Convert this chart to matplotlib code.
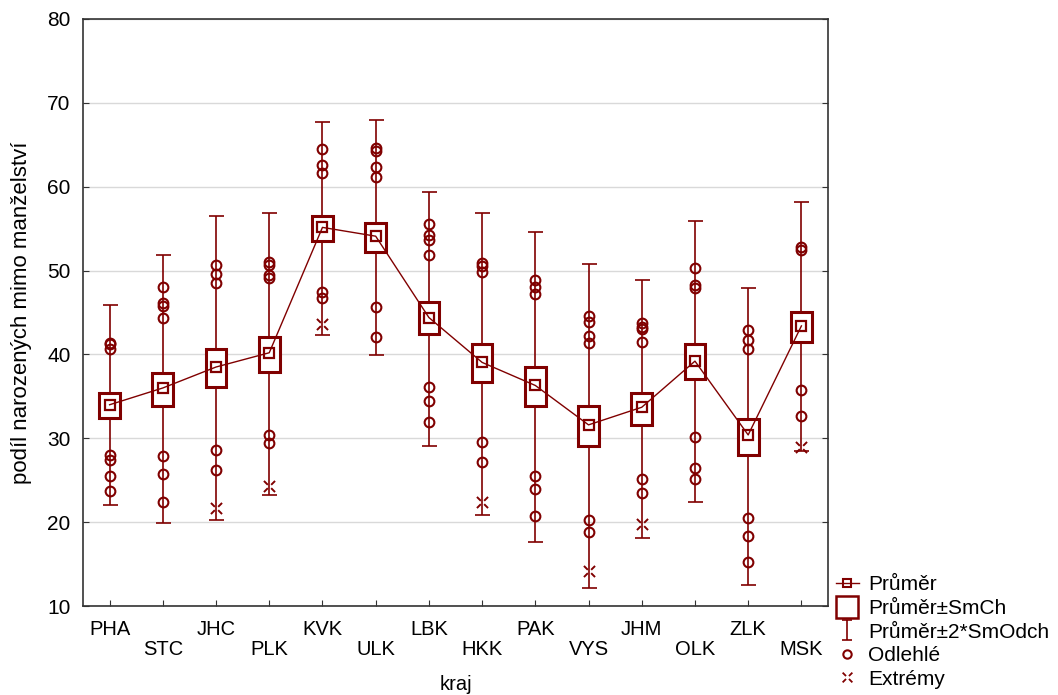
import numpy as np
import matplotlib
matplotlib.use("Agg")
import matplotlib.pyplot as plt
from matplotlib.path import Path
from matplotlib.lines import Line2D

plt.rcParams['font.family'] = ['Liberation Sans', 'DejaVu Sans']

# --- data ------------------------------------------------------------------
kraje = ['PHA', 'STC', 'JHC', 'PLK', 'KVK', 'ULK', 'LBK',
         'HKK', 'PAK', 'VYS', 'JHM', 'OLK', 'ZLK', 'MSK']

prumer = [34.0, 36.0, 38.5, 40.2, 55.15, 54.1, 44.4,
          39.05, 36.3, 31.6, 33.7, 39.2, 30.4, 43.4]
smch_lo = [32.4, 33.9, 36.15, 37.9, 53.5, 52.2, 42.4,
           36.7, 33.85, 29.1, 31.6, 37.1, 28.05, 41.5]
smch_hi = [35.4, 37.8, 40.6, 42.1, 56.5, 55.7, 46.2,
           41.2, 38.45, 33.9, 35.4, 41.2, 32.3, 45.1]
sd2_lo = [22.0, 19.9, 20.25, 23.2, 42.35, 39.9, 29.1,
          20.9, 17.6, 12.2, 18.15, 22.4, 12.5, 28.5]
sd2_hi = [45.9, 51.9, 56.55, 56.9, 67.7, 68.0, 59.4,
          56.9, 54.6, 50.8, 48.9, 55.9, 47.9, 58.2]

odlehle = [
    [41.4, 41.2, 40.7, 28.0, 27.4, 25.5, 23.7],
    [48.1, 46.1, 45.8, 44.4, 27.85, 25.7, 22.4],
    [50.7, 49.6, 48.5, 28.6, 26.25],
    [51.0, 50.7, 49.5, 49.15, 30.4, 29.4],
    [64.5, 62.6, 61.6, 47.4, 46.7],
    [64.65, 64.3, 62.35, 61.2, 45.7, 42.1],
    [55.5, 54.2, 53.7, 51.9, 36.1, 34.4, 32.0],
    [50.9, 50.6, 49.8, 29.55, 27.2],
    [48.9, 48.0, 47.25, 25.5, 24.0, 20.7],
    [44.6, 43.9, 42.2, 41.4, 20.2, 18.8],
    [43.75, 43.3, 43.0, 41.5, 25.1, 23.5],
    [50.3, 48.3, 47.9, 30.2, 26.5, 25.2],
    [42.9, 41.75, 40.65, 20.45, 18.4, 15.2],
    [52.85, 52.45, 35.7, 32.65],
]
extremy = [[], [], [21.7], [24.35], [43.6], [], [],
           [22.4], [], [14.2], [19.8], [], [], [29.0]]

# --- styling ----------------------------------------------------------------
red = '#800000'
fs = 14.5

# I-beam and broken-x markers like the original software
ibeam = Path([(-0.5, 1), (0.5, 1), (0, 1), (0, -1), (-0.5, -1), (0.5, -1)],
             [Path.MOVETO, Path.LINETO, Path.MOVETO, Path.LINETO,
              Path.MOVETO, Path.LINETO])
bx = Path([(-1, -1), (-0.3, -0.3), (1, 1), (0.3, 0.3),
           (-1, 1), (-0.3, 0.3), (1, -1), (0.3, -0.3)],
          [Path.MOVETO, Path.LINETO] * 4)

fig = plt.figure(figsize=(10.58, 6.95), dpi=100)
ax = fig.add_axes([83 / 1058, 1 - 606 / 695, 745 / 1058, 587 / 695])

x = np.arange(len(kraje))
prumer = np.array(prumer)

ax.errorbar(x, prumer, yerr=[prumer - np.array(sd2_lo), np.array(sd2_hi) - prumer],
            fmt='none', ecolor=red, elinewidth=1.2, capsize=5.4, capthick=1.2,
            zorder=2)
ax.bar(x, np.array(smch_hi) - np.array(smch_lo), bottom=smch_lo, width=0.39,
       facecolor='white', edgecolor=red, linewidth=2.2, zorder=3)
ax.plot(x, prumer, '-', color=red, lw=1.0, marker='s', ms=7,
        mfc='none', mec=red, mew=1.6, zorder=5)

for i in range(len(kraje)):
    if odlehle[i]:
        ax.plot([i] * len(odlehle[i]), odlehle[i], 'o', ls='none', ms=7,
                mfc='none', mec=red, mew=1.5, zorder=4)
    if extremy[i]:
        ax.plot([i] * len(extremy[i]), extremy[i], ls='none', marker=bx,
                ms=8, mec=red, mew=1.4, zorder=4)

ax.set_xlim(-0.5, len(kraje) - 0.5)
ax.set_ylim(10, 80)
ax.set_yticks(range(10, 81, 10))
ax.yaxis.grid(True, color='#d9d9d9', lw=1.0)
ax.set_axisbelow(True)

ax.set_xticks(x)
ax.set_xticklabels([k if i % 2 == 0 else '\n' + k for i, k in enumerate(kraje)],
                   fontsize=fs, linespacing=1.1)
ax.tick_params(axis='x', direction='in', length=4, pad=10, color='#333333')
ax.tick_params(axis='y', direction='in', length=4, pad=9, right=True,
               labelsize=fs + 0.5, color='#333333')
for s in ax.spines.values():
    s.set_color('#333333')
    s.set_linewidth(1.2)

ax.set_ylabel('podíl narozených mimo manželství', fontsize=16)
ax.yaxis.set_label_coords(-0.068, 0.5)
ax.set_xlabel('kraj', fontsize=fs)
ax.xaxis.set_label_coords(0.5, -0.117)
ax.xaxis.label.set_va('top')

handles = [
    Line2D([], [], color=red, lw=1.0, marker='s', ms=6, mfc='none', mew=1.5),
    Line2D([], [], ls='none', marker='s', ms=16, mfc='none', mec=red, mew=1.8),
    Line2D([], [], ls='none', marker=ibeam, ms=14, mec=red, mew=1.2),
    Line2D([], [], ls='none', marker='o', ms=6, mfc='none', mec=red, mew=1.5),
    Line2D([], [], ls='none', marker=bx, ms=7, mec=red, mew=1.3),
]
labels = ['Průměr', 'Průměr±SmCh', 'Průměr±2*SmOdch', 'Odlehlé', 'Extrémy']
fig.legend(handles, labels, loc='lower left', bbox_to_anchor=(0.776, -0.012),
           frameon=False, fontsize=15, handlelength=1.1, handletextpad=0.45,
           labelspacing=0.22, borderpad=0.2)

fig.savefig('out.png', dpi=100)
